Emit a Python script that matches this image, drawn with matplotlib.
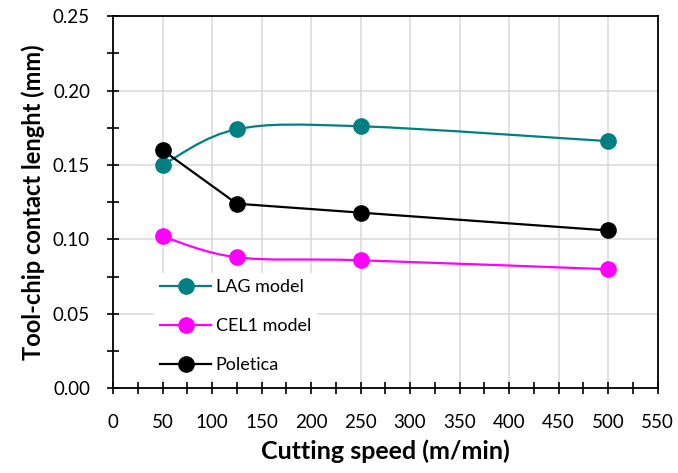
import matplotlib
matplotlib.use('Agg')
import matplotlib.pyplot as plt
from matplotlib.path import Path
from matplotlib.patches import PathPatch
from matplotlib.lines import Line2D
from matplotlib.ticker import MultipleLocator

plt.rcParams['font.family'] = ['Lato', 'DejaVu Sans']

speed = [50, 125, 250, 500]
lag_model = [0.150, 0.174, 0.176, 0.166]
cel1_model = [0.102, 0.088, 0.086, 0.080]
poletica = [0.160, 0.124, 0.118, 0.106]

TEAL = '#008080'
MAGENTA = '#ff00ff'
BLACK = '#000000'


def smooth_path(xs, ys):
    """ Excel-like smoothed line: cubic bezier through the points """
    pts = list(zip(xs, ys))
    verts = [pts[0]]
    codes = [Path.MOVETO]
    n = len(pts)
    for i in range(n - 1):
        p0 = pts[max(i - 1, 0)]
        p1 = pts[i]
        p2 = pts[i + 1]
        p3 = pts[min(i + 2, n - 1)]
        c1 = (p1[0] + (p2[0] - p0[0]) / 6, p1[1] + (p2[1] - p0[1]) / 6)
        c2 = (p2[0] - (p3[0] - p1[0]) / 6, p2[1] - (p3[1] - p1[1]) / 6)
        verts += [c1, c2, p2]
        codes += [Path.CURVE4] * 3
    return Path(verts, codes)


fig = plt.figure(figsize=(6.78, 4.73), dpi=100)
ax = fig.add_axes([0.1667, 0.179, 0.8031, 0.787])

ax.add_patch(PathPatch(smooth_path(speed, lag_model), fill=False, edgecolor=TEAL, lw=1.6, zorder=3))
ax.add_patch(PathPatch(smooth_path(speed, cel1_model), fill=False, edgecolor=MAGENTA, lw=1.6, zorder=3))
ax.plot(speed, poletica, color=BLACK, lw=1.6, zorder=3)

ax.plot(speed, lag_model, 'o', color=TEAL, ms=11, zorder=4)
ax.plot(speed, cel1_model, 'o', color=MAGENTA, ms=11, zorder=4)
ax.plot(speed, poletica, 'o', color=BLACK, ms=11, zorder=4)

ax.set_xlim(0, 550)
ax.set_ylim(0, 0.25)
ax.xaxis.set_major_locator(MultipleLocator(50))
ax.xaxis.set_minor_locator(MultipleLocator(25))
ax.yaxis.set_major_locator(MultipleLocator(0.05))
ax.yaxis.set_minor_locator(MultipleLocator(0.025))
ax.yaxis.set_major_formatter(matplotlib.ticker.FormatStrFormatter('%.2f'))

ax.grid(True, which='major', color='#d9d9d9', lw=1.1, zorder=0)
ax.set_axisbelow(True)
for s in ax.spines.values():
    s.set_linewidth(1.3)
ax.tick_params(which='both', direction='inout', length=9, width=1.2, labelsize=13.5, color='black')
ax.tick_params(axis='x', which='both', pad=14)
ax.tick_params(axis='y', which='both', pad=12)

ax.set_xlabel('Cutting speed (m/min)', fontsize=18, fontweight='bold', labelpad=6)
ax.set_ylabel('Tool-chip contact lenght (mm)', fontsize=17, fontweight='bold', labelpad=6)

handles = [
    Line2D([], [], color=TEAL, lw=1.6, marker='o', ms=11),
    Line2D([], [], color=MAGENTA, lw=1.6, marker='o', ms=11),
    Line2D([], [], color=BLACK, lw=1.6, marker='o', ms=11),
]
leg = ax.legend(handles, ['LAG model', 'CEL1 model', 'Poletica'], loc='lower left',
                bbox_to_anchor=(0.059, 0.0), frameon=True, fancybox=False, framealpha=1,
                edgecolor='white', fontsize=13, handlelength=2.8, labelspacing=1.27,
                handletextpad=0.25, borderpad=0.35)
leg.get_frame().set_linewidth(0)

fig.savefig('out.png', dpi=100)
